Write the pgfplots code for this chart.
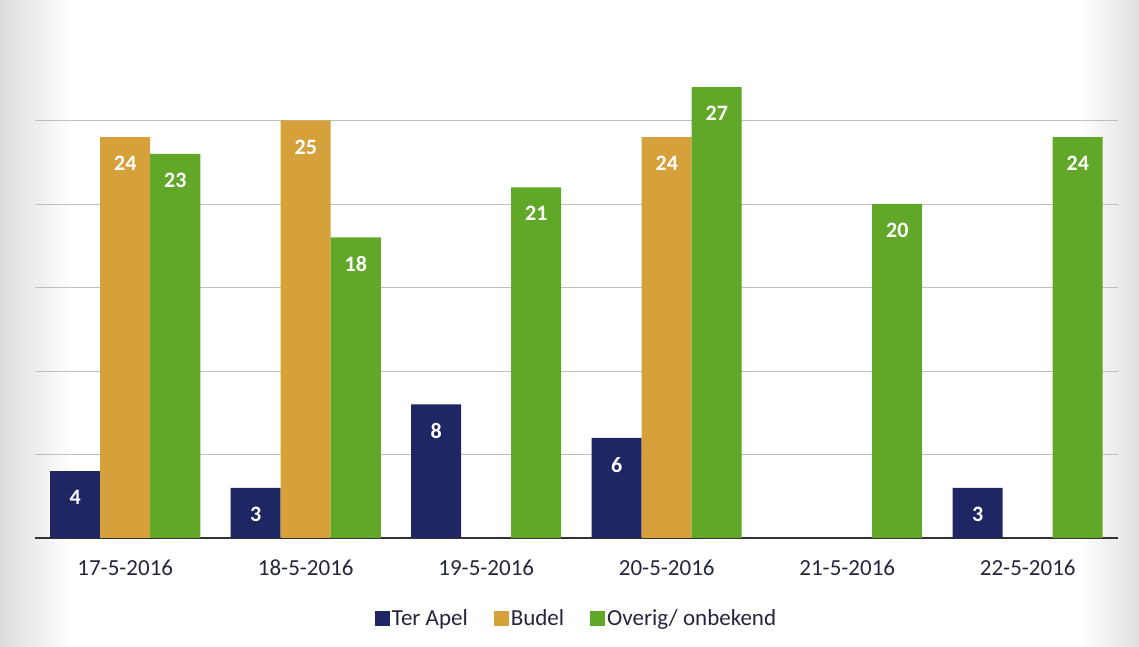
\documentclass[border=0pt]{standalone}
\usepackage{fontspec}
\setmainfont{Carlito}
\usepackage{pgfplots}
\pgfplotsset{compat=1.18}
\definecolor{navy}{RGB}{30,38,100}
\definecolor{gold}{RGB}{214,160,58}
\definecolor{grn}{RGB}{98,168,40}
\definecolor{txt}{RGB}{35,38,60}
\begin{document}
\begin{tikzpicture}
\path[use as bounding box] (0,0) rectangle (1139pt,647pt);
\shade[left color=gray!28, right color=white] (0,0) rectangle (70pt,647pt);
\shade[left color=white, right color=gray!25] (1080pt,0) rectangle (1139pt,647pt);
\begin{axis}[
  at={(35pt,109pt)}, anchor=south west,
  scale only axis, width=1083pt, height=501pt,
  xmin=-0.5, xmax=5.5, ymin=0, ymax=30,
  ybar=0pt, bar width=50pt,
  axis line style={draw=none},
  major tick length=0pt,
  /pgf/number format/assume math mode=true,
  xtick={0,1,2,3,4,5},
  xticklabels={17-5-2016,18-5-2016,19-5-2016,20-5-2016,21-5-2016,22-5-2016},
  xticklabel style={font=\fontsize{23}{26}\selectfont, text=txt, yshift=-18pt},
  ytick={5,10,15,20,25}, yticklabels={},
  ymajorgrids, grid style={gray!50, line width=0.8pt},
  extra y ticks={0}, extra y tick labels={},
  extra y tick style={grid style={black!80, line width=2.8pt}},
  nodes near coords,
  every node near coord/.append style={font=\bfseries\fontsize{22}{24}\selectfont, text=white, anchor=north, yshift=-19pt, inner sep=0pt},
  legend style={at={(0.5,-0.16)}, anchor=center, draw=none, fill=none, legend columns=3,
    font=\fontsize{23}{26}\selectfont, text=txt,
    /tikz/every even column/.append style={column sep=24pt},
    /tikz/every odd column/.append style={column sep=0pt}},
  legend image code/.code={\fill[#1, draw=none] (0pt,-7.5pt) rectangle (15pt,7.5pt);},
]
\addplot[fill=navy, draw=none] coordinates {(0,4) (1,3) (2,8) (3,6) (5,3)};
\addplot[fill=gold, draw=none] coordinates {(0,24) (1,25) (3,24)};
\addplot[fill=grn, draw=none] coordinates {(0,23) (1,18) (2,21) (3,27) (4,20) (5,24)};
\legend{Ter Apel, Budel, Overig/ onbekend}
\end{axis}
\end{tikzpicture}
\end{document}
